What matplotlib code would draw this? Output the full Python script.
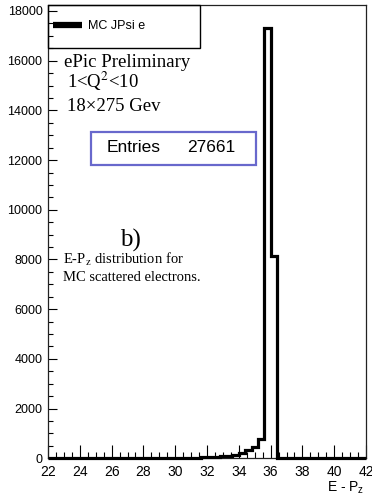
import numpy as np
import matplotlib
matplotlib.use('Agg')
import matplotlib.pyplot as plt
from matplotlib.ticker import MultipleLocator
from matplotlib.lines import Line2D
from matplotlib.patches import Rectangle

# bin edges (0.4 wide, 22 -> 42) and counts
x_lo, x_hi, n_bins = 22, 42, 50
counts = [0, 0, 0, 0, 0, 1, 0, 1, 1, 1,
          1, 2, 2, 2, 3, 3, 4, 5, 6, 8,
          10, 13, 18, 25, 34, 45, 60, 80, 110, 150,
          230, 330, 450, 760, 17300, 8150, 0, 0, 0, 0,
          0, 0, 0, 0, 0, 0, 0, 0, 0, 0]
entries = 27661
legend_label = 'MC JPsi e'
x_ticks = np.arange(22, 43, 2)
y_ticks = np.arange(0, 18001, 2000)

plt.rcParams['font.family'] = ['Liberation Sans', 'DejaVu Sans']
plt.rcParams['mathtext.fontset'] = 'custom'
plt.rcParams['mathtext.rm'] = 'Liberation Sans'
plt.rcParams['xtick.direction'] = 'in'
plt.rcParams['ytick.direction'] = 'in'

W, H = 372, 498
fig = plt.figure(figsize=(W / 100, H / 100), dpi=100)
ax = fig.add_axes([48 / W, (H - 458.3) / H, 318 / W, 453.3 / H])

edges = np.linspace(x_lo, x_hi, n_bins + 1)
ax.stairs(counts, edges, color='k', linewidth=2.3, baseline=0, clip_on=False, zorder=3)

ax.set_xlim(x_lo, x_hi)
ax.set_ylim(0, 18240)

ax.set_xticks(x_ticks)
ax.set_yticks(y_ticks)
ax.xaxis.set_minor_locator(MultipleLocator(0.5))
ax.yaxis.set_minor_locator(MultipleLocator(500))
ax.tick_params(axis='x', which='major', length=9.5, width=0.8, labelsize=10, pad=5)
ax.tick_params(axis='x', which='minor', length=4.5, width=0.8)
ax.tick_params(axis='y', which='major', length=6.5, width=0.8, labelsize=9, pad=4)
ax.tick_params(axis='y', which='minor', length=3.6, width=0.8)
ax.tick_params(top=False, right=False, which='both')
for s in ax.spines.values():
    s.set_linewidth(0.9)
    s.set_color('#222222')

# legend box
ax.add_patch(Rectangle((0, 0.905), 152 / 318, 0.095, transform=ax.transAxes,
                       fill=False, edgecolor='k', linewidth=1.0, clip_on=False, zorder=4))
h = Line2D([], [], color='k', linewidth=4.5, solid_capstyle='butt')
ax.legend(handles=[h], labels=[legend_label], loc='center left',
          bbox_to_anchor=(5 / 318, (458.3 - 26.5) / 453.3), frameon=False,
          borderpad=0, borderaxespad=0, handlelength=2.3, handletextpad=0.5,
          fontsize=9)

# Entries box
ax.add_patch(Rectangle((0.134, 0.647), 0.52, 0.0735, transform=ax.transAxes,
                       fill=False, edgecolor='#6868cc', linewidth=1.6, zorder=4))
fig.text(107 / W, 1 - 148 / H, 'Entries', fontsize=12.5, va='center', ha='left')
fig.text(235 / W, 1 - 148 / H, str(entries), fontsize=12.5, va='center', ha='right')

serif = ['Liberation Serif', 'DejaVu Serif']
fig.text(64 / W, 1 - 67 / H, 'ePic Preliminary', family=serif, fontsize=13.5, va='baseline')
fig.text(67 / W, 1 - 88 / H, r'1<Q$^\mathrm{2}$<10', family=serif, fontsize=13.5,
         va='baseline', math_fontfamily='stix')
fig.text(67 / W, 1 - 111 / H, '18×275 Gev', family=serif, fontsize=13.5, va='baseline')
fig.text(120 / W, 1 - 247 / H, 'b)', family=serif, fontsize=18, va='baseline')
fig.text(63 / W, 1 - 264 / H, r'E-P$_\mathrm{z}$ distribution for', family=serif,
         fontsize=10.5, va='baseline', math_fontfamily='stix')
fig.text(63 / W, 1 - 281 / H, 'MC scattered electrons.', family=serif,
         fontsize=10.5, va='baseline')

# x axis title
fig.text(364 / W, 1 - 492 / H, r'E - P$_\mathrm{z}$', fontsize=10, ha='right', va='baseline')

fig.savefig('out.png', dpi=100)
